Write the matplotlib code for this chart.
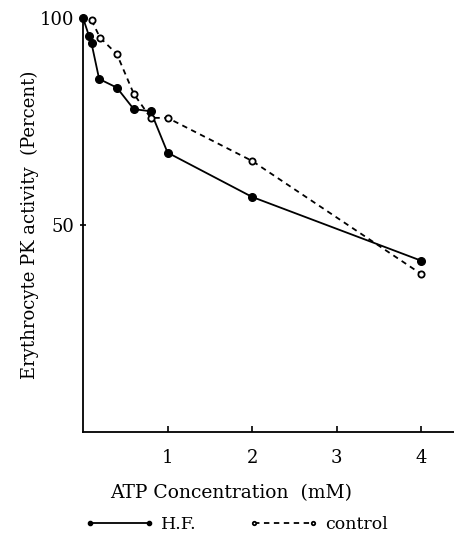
import numpy as np
import matplotlib
matplotlib.use("Agg")
import matplotlib.pyplot as plt

plt.rc('font', family='DejaVu Serif', size=12)

# H.F. (filled circles, solid line)
hf_atp = [0.0, 0.07, 0.1, 0.19, 0.4, 0.6, 0.8, 1.0, 2.0, 4.0]
hf_pk = [100.0, 95.7, 93.9, 85.3, 83.2, 78.0, 77.5, 67.5, 56.8, 41.4]
# control (open circles, dashed line)
ctl_atp = [0.1, 0.2, 0.4, 0.6, 0.8, 1.0, 2.0, 4.0]
ctl_pk = [99.5, 95.3, 91.3, 81.7, 75.9, 75.9, 65.5, 38.2]

xticks = [1, 2, 3, 4]
yticks = [50, 100]

fig = plt.figure(figsize=(4.54, 5.41), dpi=100)
ax = fig.add_axes([0.183, 0.2015, 0.817, 0.765])

ax.plot(hf_atp, hf_pk, color='black', linewidth=1.3, marker='o', markersize=5.5,
        markerfacecolor='black', markeredgecolor='black', clip_on=False, label='H.F.')
ax.plot(ctl_atp, ctl_pk, color='black', linewidth=1.3, linestyle=(0, (3, 2.5)), marker='o',
        markersize=4.5, markerfacecolor='white', markeredgecolor='black', markeredgewidth=1.3,
        clip_on=False, label='control')

ax.set_xlim(0, 4.39)
ax.set_ylim(0, 100)
ax.spines['top'].set_visible(False)
ax.spines['right'].set_visible(False)
ax.spines['left'].set_linewidth(1.3)
ax.spines['bottom'].set_linewidth(1.3)

ax.set_xticks(xticks)
ax.set_yticks(yticks)
ax.tick_params(axis='x', direction='in', length=4, width=1.2, pad=12, labelsize=13)
ax.tick_params(axis='y', direction='inout', length=5, width=1.2, pad=4, labelsize=13)

ax.set_xlabel("ATP Concentration  (mM)", fontsize=13.5, labelpad=10)
ax.xaxis.set_label_coords(0.40, -0.125)
ax.set_ylabel("Erythrocyte PK activity  (Percent)", fontsize=13)
ax.yaxis.set_label_coords(-0.118, 0.5)

fig.legend(loc='center left', bbox_to_anchor=(0.152, 0.031), ncol=2, frameon=False,
           numpoints=2, handlelength=4.0, handletextpad=0.4, columnspacing=3.0,
           markerscale=0.55, fontsize=12.5)

fig.savefig("out.png", dpi=100)
